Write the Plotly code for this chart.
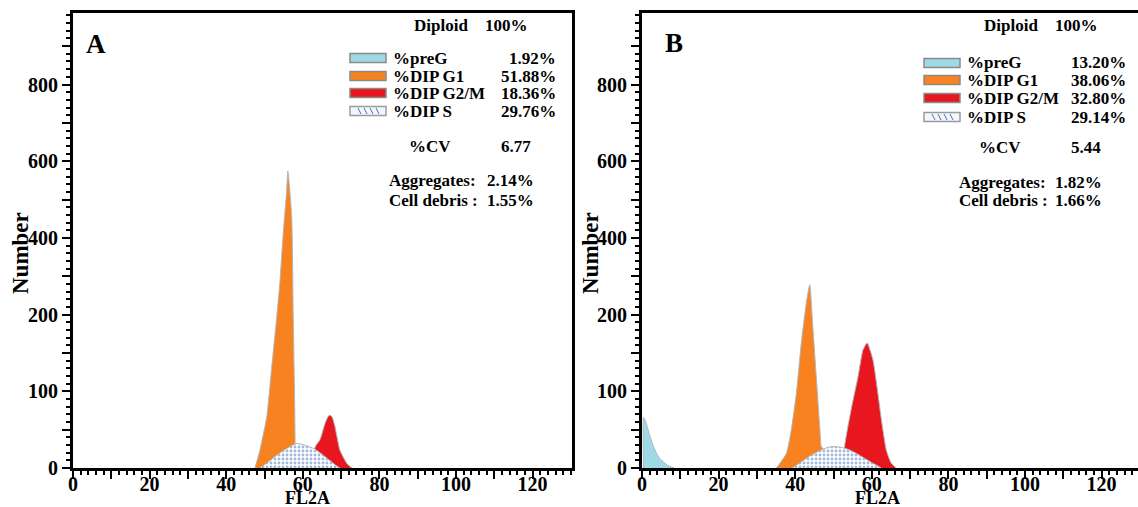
import numpy as np
import plotly.graph_objects as go

W, H = 1138, 507

# ---- Axis labels -------------------------------------------------------
Y_TICK_VALUES = [0, 100, 200, 400, 600, 800]     # labels are equally spaced on the axis
X_TICK_VALUES = [0, 20, 40, 60, 80, 100, 120]

# ---- Panel A data (FL2A channel, Number) --------------------------------
A_G1_X = [47.5, 48.8, 50.6, 51.9, 53.2, 54.0, 54.9, 55.8, 56.1, 57.1, 57.5, 57.8, 58.0, 58.0]
A_G1_Y = [0, 23, 67, 132, 197, 282, 412, 524, 574, 456, 197, 110, 30, 0]
A_G2_X = [63.2, 63.2, 64.5, 65.8, 66.6, 67.1, 67.7, 68.4, 69.7, 71.5, 72.8]
A_G2_Y = [0, 27, 37, 58, 67, 69, 66, 54, 23, 6, 0]
A_S_X = [48.8, 51, 53, 55, 57, 58.6, 61, 63, 65, 67, 68.5, 69.7]
A_S_Y = [0, 8, 16, 23, 29, 32, 29, 25, 18, 10, 4, 0]

# ---- Panel B data -------------------------------------------------------
B_PREG_X = [0.4, 0.4, 1.0, 2.1, 3.0, 3.8, 4.7, 5.6, 6.5, 7.3, 8.5]
B_PREG_Y = [0, 66, 60, 41, 28, 19, 12, 8, 4, 2, 0]
B_G1_X = [35.1, 37.7, 39.0, 40.3, 41.6, 42.9, 43.8, 44.6, 45.5, 46.4, 46.8, 47.3, 47.3]
B_G1_Y = [0, 19, 50, 97, 163, 230, 278, 184, 119, 54, 28, 25, 0]
B_G2_X = [52.9, 52.9, 54.6, 56.4, 57.7, 58.8, 60.3, 61.6, 62.5, 63.8, 65.0, 66.3]
B_G2_Y = [0, 28, 76, 119, 154, 163, 141, 97, 63, 23, 7, 0]
B_S_X = [39.2, 41, 43, 45, 47, 49, 50, 52, 54, 56, 58, 60, 61.5, 62.5]
B_S_Y = [0, 6, 13, 19, 24, 27.5, 28, 27, 24, 19, 13, 7, 3, 0]

# ---- Text block ---------------------------------------------------------
PHASES = ["%preG", "%DIP G1", "%DIP G2/M", "%DIP S"]
A_PCT = ["1.92%", "51.88%", "18.36%", "29.76%"]
B_PCT = ["13.20%", "38.06%", "32.80%", "29.14%"]
A_CV, B_CV = "6.77", "5.44"
A_AGG, B_AGG = "2.14%", "1.82%"
A_DEB, B_DEB = "1.55%", "1.66%"

C_PREG = "#9ed9e6"
C_G1 = "#f7821f"
C_G2 = "#e8161f"
C_EDGE = "#b5b5b5"
C_DOT = "#4672b8"
FONT = "Liberation Serif"


def ypos(v):
    v = np.asarray(v, dtype=float)
    return np.where(v <= 800, np.interp(v, Y_TICK_VALUES, np.arange(6)), 5 + (v - 800) / 200.0)


fig = go.Figure()


def area(x, y, color, xa, ya, name):
    fig.add_trace(go.Scatter(x=x, y=ypos(y), mode="lines", fill="tozeroy",
                             fillcolor=color, line=dict(color=C_EDGE, width=1, shape="spline", smoothing=0.5),
                             xaxis=xa, yaxis=ya, name=name, showlegend=False,
                             hoverinfo="skip"))


def sphase(x, y, xa, ya):
    fig.add_trace(go.Scatter(x=x, y=ypos(y), mode="lines", fill="tozeroy",
                             fillpattern=dict(shape=".", fgcolor=C_DOT, bgcolor="white",
                                              size=4, solidity=0.4),
                             line=dict(color=C_EDGE, width=1, shape="spline", smoothing=0.6),
                             xaxis=xa, yaxis=ya, name="S", showlegend=False,
                             hoverinfo="skip"))


area(A_G1_X, A_G1_Y, C_G1, "x", "y", "G1")
area(A_G2_X, A_G2_Y, C_G2, "x", "y", "G2/M")
sphase(A_S_X, A_S_Y, "x", "y")

area(B_PREG_X, B_PREG_Y, C_PREG, "x2", "y2", "preG")
area(B_G1_X, B_G1_Y, C_G1, "x2", "y2", "G1")
area(B_G2_X, B_G2_Y, C_G2, "x2", "y2", "G2/M")
sphase(B_S_X, B_S_Y, "x2", "y2")

# invisible anchors so the label-only x axes are drawn
for xa, ya in (("x3", "y"), ("x4", "y2")):
    fig.add_trace(go.Scatter(x=[0], y=[0], mode="markers", marker=dict(opacity=0),
                             xaxis=xa, yaxis=ya, showlegend=False, hoverinfo="skip"))

PXU = 3.83  # pixels per channel unit
y0px, ytop = 468, 13
ydom = [1 - y0px / H, 1 - ytop / H]
yrange = [0, (y0px - ytop) / 76.7]

tickfont = dict(family=FONT, size=20, color="black", weight="bold")
xt = list(range(0, 130, 10))
yt = list(np.arange(0, 5.51, 0.5))
ytt = [str(Y_TICK_VALUES[int(v)]) if float(v).is_integer() else "" for v in yt]


def xaxis(dom_px, anchor):
    return dict(domain=[dom_px[0] / W, dom_px[1] / W], range=[0, (dom_px[1] - dom_px[0]) / PXU],
                anchor=anchor, showline=True, linecolor="black", linewidth=3, mirror=True,
                ticks="outside", tickvals=xt, showticklabels=False, ticklen=8, tickwidth=2,
                tickcolor="black", showgrid=False, zeroline=False, automargin=False,
                minor=dict(dtick=2, tick0=0, ticks="outside", ticklen=4, tickwidth=2,
                           tickcolor="black", showgrid=False))


def xlabels(over, dom_px):
    return dict(overlaying=over, matches=over, anchor="free", position=1 - 470 / H,
                domain=[dom_px[0] / W, dom_px[1] / W],
                showline=False, ticks="", tickvals=X_TICK_VALUES,
                ticktext=[str(v) for v in X_TICK_VALUES], tickfont=tickfont,
                showgrid=False, zeroline=False, automargin=False)


def yaxis(anchor, mirror):
    return dict(domain=ydom, range=yrange, anchor=anchor, showline=True, linecolor="black",
                linewidth=3, mirror=mirror, ticks="outside", tickvals=yt, ticktext=ytt,
                ticklen=8, tickwidth=2, tickcolor="black", tickfont=tickfont,
                showgrid=False, zeroline=False, automargin=False,
                minor=dict(dtick=0.1, tick0=0, ticks="outside", ticklen=4, tickwidth=2,
                           tickcolor="black", showgrid=False))


fig.update_layout(
    width=W, height=H, margin=dict(l=0, r=0, t=0, b=0, autoexpand=False),
    paper_bgcolor="white", plot_bgcolor="white", showlegend=False,
    xaxis=xaxis((73, 572), "y"), yaxis=yaxis("x", True),
    xaxis2=xaxis((642, 1138), "y2"), yaxis2=yaxis("x2", False),
    xaxis3=xlabels("x", (73, 572)), xaxis4=xlabels("x2", (642, 1138)),
)

anns = []
shapes = []
BS = 17


def txt(x, y, s, anchor="left", size=BS, angle=0):
    anns.append(dict(x=x / W, y=1 - y / H, xref="paper", yref="paper", text=s,
                     showarrow=False, xanchor=anchor, yanchor="middle", textangle=angle,
                     font=dict(family=FONT, size=size, color="black", weight="bold")))


def block(ox, sw_x0, rows_y, pcts, cv, agg, deb, dip_y, cv_y, agg_y, deb_y, right, cv_right, agg_right):
    txt(ox + 0, dip_y, "Diploid", "left")
    txt(ox + 71, dip_y, "100%", "left")
    colors = [C_PREG, C_G1, C_G2, None]
    for i, (lab, pct, ry) in enumerate(zip(PHASES, pcts, rows_y)):
        x0, x1 = sw_x0, sw_x0 + 36
        if colors[i]:
            shapes.append(dict(type="rect", xref="paper", yref="paper",
                               x0=x0 / W, x1=x1 / W, y0=1 - (ry + 4.5) / H, y1=1 - (ry - 4.5) / H,
                               fillcolor=colors[i], line=dict(color="#8a8a8a", width=1.5)))
        else:
            shapes.append(dict(type="rect", xref="paper", yref="paper",
                               x0=x0 / W, x1=x1 / W, y0=1 - (ry + 4.5) / H, y1=1 - (ry - 4.5) / H,
                               fillcolor="#f3f6fb", line=dict(color="#9a9a9a", width=1.5)))
            for k in range(4):
                sx = x0 + 8 + k * 6
                shapes.append(dict(type="line", xref="paper", yref="paper",
                                   x0=sx / W, x1=(sx + 3) / W, y0=1 - (ry - 3) / H, y1=1 - (ry + 3) / H,
                                   line=dict(color=C_DOT, width=1)))
        txt(sw_x0 + 41, ry, lab, "left")
        txt(right, ry, pct, "right")
    txt(ox + 18, cv_y, "%CV", "center")
    txt(cv_right, cv_y, cv, "right")
    txt(ox - 25, agg_y, "Aggregates:", "left")
    txt(agg_right, agg_y, agg, "right")
    txt(ox - 25, deb_y, "Cell debris :", "left")
    txt(agg_right, deb_y, deb, "right")


block(412, 350, [58, 76, 93, 111], A_PCT, A_CV, A_AGG, A_DEB, 25, 147, 180, 200, 558, 533, 536)
block(982, 924, [63, 80, 98, 117], B_PCT, B_CV, B_AGG, B_DEB, 25, 148, 182, 200, 1128, 1103, 1104)

txt(96, 44, "A", "center", size=27)
txt(674, 43, "B", "center", size=27)
txt(307, 498, "FL2A", "center", size=18)
txt(877, 498, "FL2A", "center", size=18)
txt(20, 253, "Number", "center", size=23, angle=-90)
txt(590, 253, "Number", "center", size=23, angle=-90)

fig.update_layout(annotations=anns, shapes=shapes)
fig.write_html("out.html")
